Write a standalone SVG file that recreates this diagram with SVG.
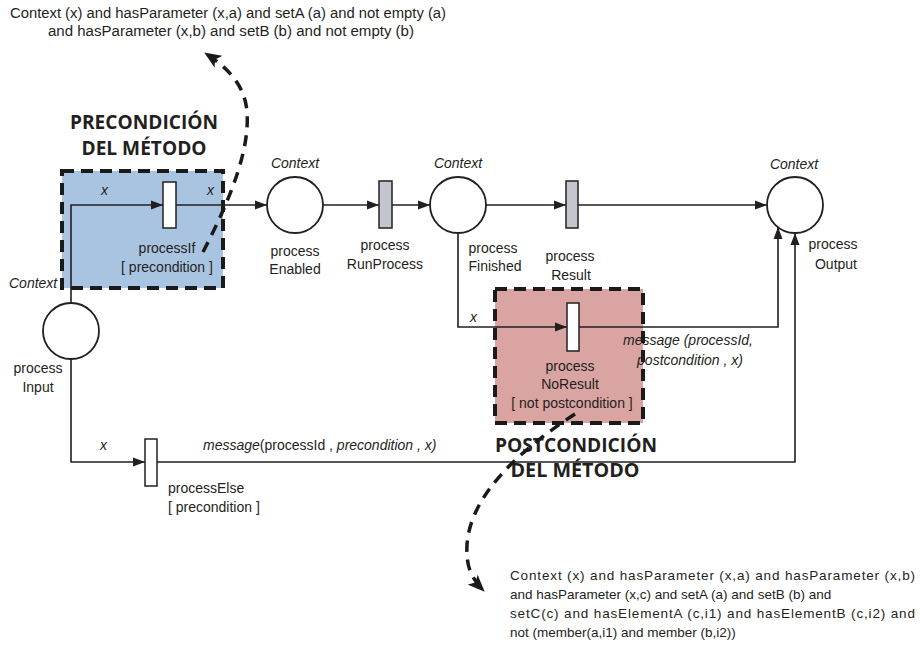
<svg xmlns="http://www.w3.org/2000/svg" width="920" height="654" viewBox="0 0 920 654">
<style>
.t{font-family:"Liberation Sans",Arial,sans-serif;font-size:14px;fill:#231f20}
.n{font-family:"Liberation Sans",Arial,sans-serif;font-size:13.5px;fill:#231f20}
.i{font-style:italic}
.c{text-anchor:middle}
.h{font-family:"Open Sans","DejaVu Sans",sans-serif;font-weight:bold;font-size:19px;fill:#231f20;text-anchor:middle}
.ln{fill:none;stroke:#231f20;stroke-width:1.6}
.pl{fill:#fff;stroke:#231f20;stroke-width:1.8}
.tw{fill:#fff;stroke:#231f20;stroke-width:1.5}
.tg{fill:#c3c6cf;stroke:#231f20;stroke-width:1.5}
.box{stroke:#1a1a1a;stroke-width:4;stroke-dasharray:12 7}
.dc{fill:none;stroke:#1a1a1a;stroke-width:3.5;stroke-dasharray:11 8}
</style>
<defs>
<marker id="a" markerWidth="12" markerHeight="10" refX="12" refY="5" orient="auto" markerUnits="userSpaceOnUse"><path d="M0,0.5 L12,5 L0,9.5z" fill="#231f20"/></marker>
<marker id="b" markerWidth="18" markerHeight="14" refX="16" refY="7" orient="auto" markerUnits="userSpaceOnUse"><path d="M0,0 L17,7 L0,14 L4,7z" fill="#1a1a1a"/></marker>
</defs>

<g id="precondition-box">
<rect x="62" y="171" width="161" height="117" fill="#a9c4e0" class="box"/>
<text class="h" x="144" y="129" textLength="148" lengthAdjust="spacingAndGlyphs">PRECONDICIÓN</text>
<text class="h" x="144" y="155" textLength="125" lengthAdjust="spacingAndGlyphs">DEL MÉTODO</text>
</g>
<g id="postcondition-box">
<rect x="495" y="289" width="148" height="134" fill="#d9a4a2" class="box"/>
<text class="h" x="576" y="452" textLength="162" lengthAdjust="spacingAndGlyphs">POSTCONDICIÓN</text>
<text class="h" x="575" y="477" textLength="129" lengthAdjust="spacingAndGlyphs">DEL MÉTODO</text>
</g>

<g id="connectors">
<path class="ln" d="M71,303 V205 H163" marker-end="url(#a)"/>
<path class="ln" d="M176,205 H267" marker-end="url(#a)"/>
<path class="ln" d="M323,205 H379" marker-end="url(#a)"/>
<path class="ln" d="M392,205 H430" marker-end="url(#a)"/>
<path class="ln" d="M486,205 H566" marker-end="url(#a)"/>
<path class="ln" d="M578,205 H767" marker-end="url(#a)"/>
<path class="ln" d="M458,233 V327 H567" marker-end="url(#a)"/>
<path class="ln" d="M579,327 H778 V227" marker-end="url(#a)"/>
<path class="ln" d="M71,359 V462 H145" marker-end="url(#a)"/>
<path class="ln" d="M157,462 H795 V233" marker-end="url(#a)"/>
<text class="t i" x="101" y="195">x</text>
<text class="t i" x="207" y="195">x</text>
<text class="t i" x="470" y="322">x</text>
<text class="t i" x="100" y="450">x</text>
<text class="t" x="203" y="450"><tspan class="i">message</tspan>(processId , <tspan class="i">precondition , x)</tspan></text>
<text class="t i c" x="688" y="345">message (processId,</text>
<text class="t i c" x="690" y="365">postcondition , x)</text>
</g>

<g id="processInput">
<circle class="pl" cx="71" cy="331" r="28"/>
<text class="t i" x="9" y="288">Context</text>
<text class="t c" x="38" y="373">process</text>
<text class="t c" x="38" y="392">Input</text>
</g>
<g id="processIf">
<rect class="tw" x="163" y="182" width="13" height="46"/>
<text class="t c" x="167" y="253">processIf</text>
<text class="t c" x="167" y="272">[ precondition ]</text>
</g>
<g id="processEnabled">
<circle class="pl" cx="295" cy="205" r="28"/>
<text class="t i c" x="295" y="168">Context</text>
<text class="t c" x="295" y="256">process</text>
<text class="t c" x="295" y="274">Enabled</text>
</g>
<g id="processRunProcess">
<rect class="tg" x="379" y="181" width="13" height="47"/>
<text class="t c" x="385" y="250">process</text>
<text class="t c" x="385" y="269">RunProcess</text>
</g>
<g id="processFinished">
<circle class="pl" cx="458" cy="205" r="28"/>
<text class="t i c" x="458" y="168">Context</text>
<text class="t c" x="493" y="253">process</text>
<text class="t c" x="495" y="271">Finished</text>
</g>
<g id="processResult">
<rect class="tg" x="566" y="181" width="12" height="47"/>
<text class="t c" x="570" y="261">process</text>
<text class="t c" x="571" y="280">Result</text>
</g>
<g id="processOutput">
<circle class="pl" cx="795" cy="205" r="28"/>
<text class="t i c" x="794" y="169">Context</text>
<text class="t c" x="833" y="249">process</text>
<text class="t c" x="836" y="269">Output</text>
</g>
<g id="processNoResult">
<rect class="tw" x="567" y="303" width="12" height="48"/>
<text class="t c" x="570" y="371">process</text>
<text class="t c" x="570" y="389">NoResult</text>
<text class="t c" x="572" y="408">[ not postcondition ]</text>
</g>
<g id="processElse">
<rect class="tw" x="145" y="439" width="12" height="47"/>
<text class="t" x="168" y="493">processElse</text>
<text class="t" x="168" y="512">[ precondition ]</text>
</g>

<g id="pre-note">
<text class="t c" x="228" y="18" textLength="436" lengthAdjust="spacingAndGlyphs">Context (x) and hasParameter (x,a) and setA (a) and not empty (a)</text>
<text class="t c" x="231" y="36" textLength="366" lengthAdjust="spacingAndGlyphs">and hasParameter (x,b) and setB (b) and not empty (b)</text>
<path class="dc" d="M203,252 C230,200 250,150 247,112 C245,85 228,68 205,53" marker-end="url(#b)"/>
</g>
<g id="post-note">
<text class="n" x="510" y="580" textLength="405" lengthAdjust="spacing">Context (x) and hasParameter (x,a) and hasParameter (x,b)</text>
<text class="n" x="510" y="599">and hasParameter (x,c) and setA (a) and setB (b) and</text>
<text class="n" x="510" y="618" textLength="405" lengthAdjust="spacing">setC(c) and hasElementA (c,i1) and hasElementB (c,i2) and</text>
<text class="n" x="510" y="637">not (member(a,i1) and member (b,i2))</text>
<path class="dc" d="M575,414 C520,450 470,495 467,545 C466,565 470,577 484,591" marker-end="url(#b)"/>
</g>
</svg>
